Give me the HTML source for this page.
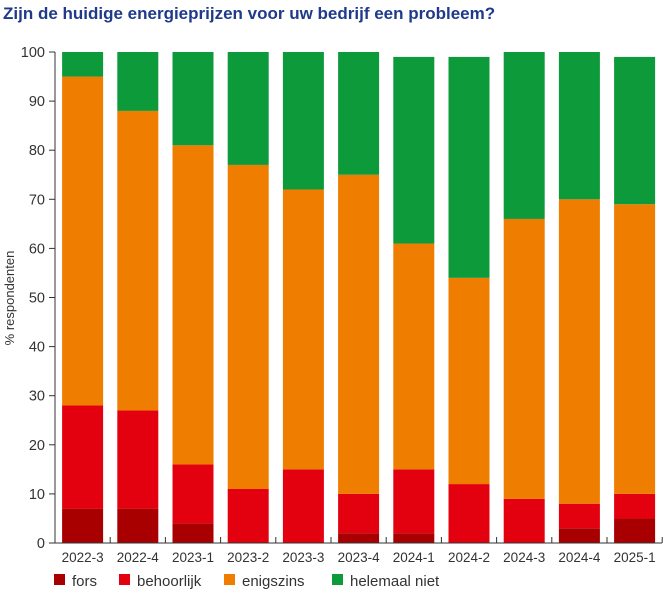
<!DOCTYPE html>
<html><head><meta charset="utf-8"><style>
body{margin:0;background:#fff;width:670px;height:589px;overflow:hidden;font-family:"Liberation Sans",sans-serif}
</style></head><body>
<svg width="670" height="589" id="c">
<text x="3" y="19" font-size="17" font-weight="bold" fill="#1f3a8a">Zijn de huidige energieprijzen voor uw bedrijf een probleem?</text>
<text transform="translate(14,298) rotate(-90)" text-anchor="middle" font-size="13" fill="#333">% respondenten</text>
</svg>
<script>
const categories=["2022-3","2022-4","2023-1","2023-2","2023-3","2023-4","2024-1","2024-2","2024-3","2024-4","2025-1"];
const fors=[7,7,4,0,0,2,2,0,0,3,5];
const behoorlijk=[21,20,12,11,15,8,13,12,9,5,5];
const enigszins=[67,61,65,66,57,65,46,42,57,62,59];
const helemaalNiet=[5,12,19,23,28,25,38,45,34,30,30];
const yTicks=[0,10,20,30,40,50,60,70,80,90,100];
const seriesNames=["fors","behoorlijk","enigszins","helemaal niet"];
const colors=["#a80000","#e3000f","#ef7d00","#0d9a3b"];
const series=[fors,behoorlijk,enigszins,helemaalNiet];
const svg=document.getElementById('c');const NS="http://www.w3.org/2000/svg";
const y0=543,y1=52,x0=55,step=55.2,bw=41;
const Y=v=>y0-(y0-y1)*v/100;
const X=i=>x0+step*i+step/2;
function el(t,a){const e=document.createElementNS(NS,t);for(const k in a)e.setAttribute(k,a[k]);svg.appendChild(e);return e;}
yTicks.forEach(t=>{const e=el('text',{x:45,y:Y(t)+5,'text-anchor':'end','font-size':14.5,fill:'#333'});e.textContent=t;


const l=el('line',{x1:49,x2:55,y1:Y(t),y2:Y(t),stroke:'#333'});

});
categories.forEach((c,i)=>{let acc=0;series.forEach((s,j)=>{const v=s[i];if(v>0){const r=el('rect',{x:X(i)-bw/2,y:Y(acc+v),width:bw,height:Y(acc)-Y(acc+v),fill:colors[j]});

}acc+=v;});
const t=el('text',{x:X(i),y:562,'text-anchor':'middle','font-size':13.5,fill:'#333'});t.textContent=c;


const tk=el('line',{x1:x0+step*(i+1),x2:x0+step*(i+1),y1:y0-6,y2:y0,stroke:'#333'});

});
const ax=el('line',{x1:55,x2:662,y1:y0,y2:y0,stroke:'#333'});


const ay=el('line',{x1:55,x2:55,y1:y1,y2:y0,stroke:'#333'});


const lx=[54,119,224,332];
seriesNames.forEach((n,j)=>{const r=el('rect',{x:lx[j],y:574,width:11,height:11,fill:colors[j]});


const t=el('text',{x:lx[j]+18,y:586,'font-size':15,fill:'#333'});t.textContent=n;

});
</script>
</body></html>
